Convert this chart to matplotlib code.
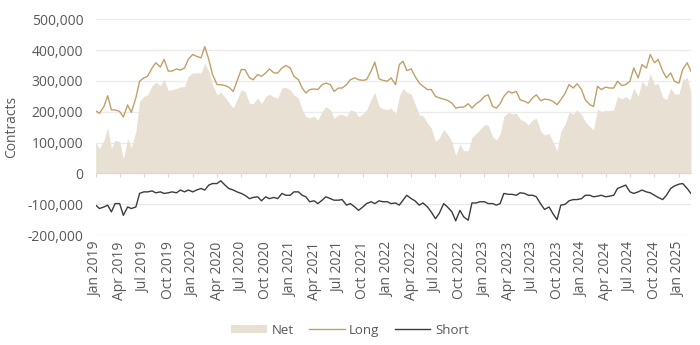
import matplotlib
matplotlib.use("Agg")
import matplotlib.pyplot as plt
import matplotlib.dates as mdates
import matplotlib.ticker as mticker
from matplotlib.patches import Patch
from matplotlib.lines import Line2D
import numpy as np
import pandas as pd

# semi-monthly readings (1st and 15th), thousands of contracts
long_k = [
    # 2019
    203, 195, 217, 252, 206, 206, 201, 183, 222, 198, 245, 299,
    310, 315, 342, 359, 345, 370, 332, 332, 339, 335, 342, 370,
    # 2020
    386, 380, 375, 411, 370, 321, 288, 288, 285, 280, 266, 299,
    337, 337, 310, 304, 321, 315, 326, 339, 326, 326, 342, 350,
    # 2021
    342, 315, 304, 277, 261, 272, 274, 272, 288, 293, 288, 266,
    277, 277, 288, 304, 310, 304, 302, 304, 332, 361, 307, 302,
    # 2022
    299, 310, 288, 353, 364, 334, 339, 315, 293, 283, 272, 272,
    250, 245, 241, 237, 228, 212, 215, 215, 226, 212, 226, 234,
    # 2023
    250, 255, 217, 212, 226, 250, 266, 261, 266, 239, 234, 228,
    245, 255, 236, 241, 239, 234, 223, 239, 261, 288, 277, 291,
    # 2024
    272, 239, 223, 217, 283, 272, 280, 277, 277, 299, 285, 288,
    299, 342, 310, 353, 342, 386, 359, 370, 332, 310, 326, 299,
    # 2025
    293, 337, 359, 332,
]

short_k = [
    # 2019
    -103, -114, -109, -103, -125, -98, -98, -136, -109, -114, -109, -65,
    -60, -60, -57, -63, -60, -65, -63, -60, -63, -54, -60, -54,
    # 2020
    -60, -54, -49, -54, -38, -33, -33, -24, -38, -49, -54, -60,
    -65, -71, -82, -78, -76, -89, -76, -82, -78, -82, -65, -71,
    # 2021
    -71, -60, -60, -71, -76, -92, -89, -98, -87, -76, -82, -87,
    -87, -85, -103, -98, -109, -120, -109, -98, -92, -98, -89, -92,
    # 2022
    -92, -98, -96, -103, -87, -71, -82, -89, -103, -96, -109, -125,
    -147, -130, -98, -109, -125, -154, -120, -141, -152, -96, -96, -92,
    # 2023
    -92, -98, -98, -103, -98, -65, -68, -68, -71, -63, -65, -71,
    -71, -76, -100, -117, -109, -130, -150, -103, -100, -89, -85, -85,
    # 2024
    -82, -71, -71, -76, -74, -71, -76, -74, -71, -49, -43, -38,
    -60, -65, -60, -54, -60, -63, -71, -78, -85, -71, -49, -41,
    # 2025
    -35, -33, -49, -65,
]

dates = [pd.Timestamp(y, m, d) for y in range(2019, 2026) for m in range(1, 13) for d in (1, 15)]
dates = dates[:len(long_k)]

long_ = np.array(long_k) * 1000
short = np.array(short_k) * 1000
net = long_ + short

NET_C = "#E8E0D2"
LONG_C = "#C0A068"
SHORT_C = "#3C3C3C"
TXT_C = "#595959"

plt.rcParams["font.family"] = ["Open Sans", "DejaVu Sans"]

fig = plt.figure(figsize=(7, 3.45), dpi=100)
ax = fig.add_axes([0.1367, 0.3188, 0.987 - 0.1367, 0.944 - 0.3188])

ax.fill_between(dates, 0, net, color=NET_C, linewidth=0, zorder=2)
ax.plot(dates, long_, color=LONG_C, lw=1.0, zorder=3)
ax.plot(dates, short, color=SHORT_C, lw=1.0, zorder=3)

ax.set_ylim(-200000, 500000)
ax.set_xlim(dates[0], dates[-1])
ax.yaxis.set_major_locator(mticker.MultipleLocator(100000))
ax.yaxis.set_major_formatter(mticker.FuncFormatter(lambda v, p: f"{v:,.0f}"))
ax.grid(axis="y", color="#EBEBEB", lw=1.0, zorder=0)
ax.set_axisbelow(True)

ax.xaxis.set_major_locator(mdates.MonthLocator(bymonth=[1, 4, 7, 10]))
ax.xaxis.set_major_formatter(mdates.DateFormatter("%b %Y"))

for s in ("top", "right", "left"):
    ax.spines[s].set_visible(False)
ax.spines["bottom"].set_position(("data", 0))
ax.spines["bottom"].set_color("#D9D9D9")
ax.spines["bottom"].set_zorder(4)

ax.tick_params(axis="y", length=0, pad=9, labelsize=10, labelcolor=TXT_C)
ax.tick_params(axis="x", length=3, color="#D9D9D9", pad=46, labelsize=10,
               labelcolor=TXT_C, labelrotation=90)
ax.set_ylabel("Contracts", fontsize=10, color=TXT_C, labelpad=6)

handles = [
    Patch(facecolor=NET_C, edgecolor="none"),
    Line2D([0], [0], color=LONG_C, lw=1.0),
    Line2D([0], [0], color=SHORT_C, lw=1.0),
]
fig.legend(handles, ["Net", "Long", "Short"], loc="center", bbox_to_anchor=(0.5, 0.043),
           ncol=3, frameon=False, fontsize=9.5, handlelength=2.7, handleheight=0.5,
           handletextpad=0.35, columnspacing=1.15, labelcolor=TXT_C)

fig.savefig("out.png", dpi=100)
